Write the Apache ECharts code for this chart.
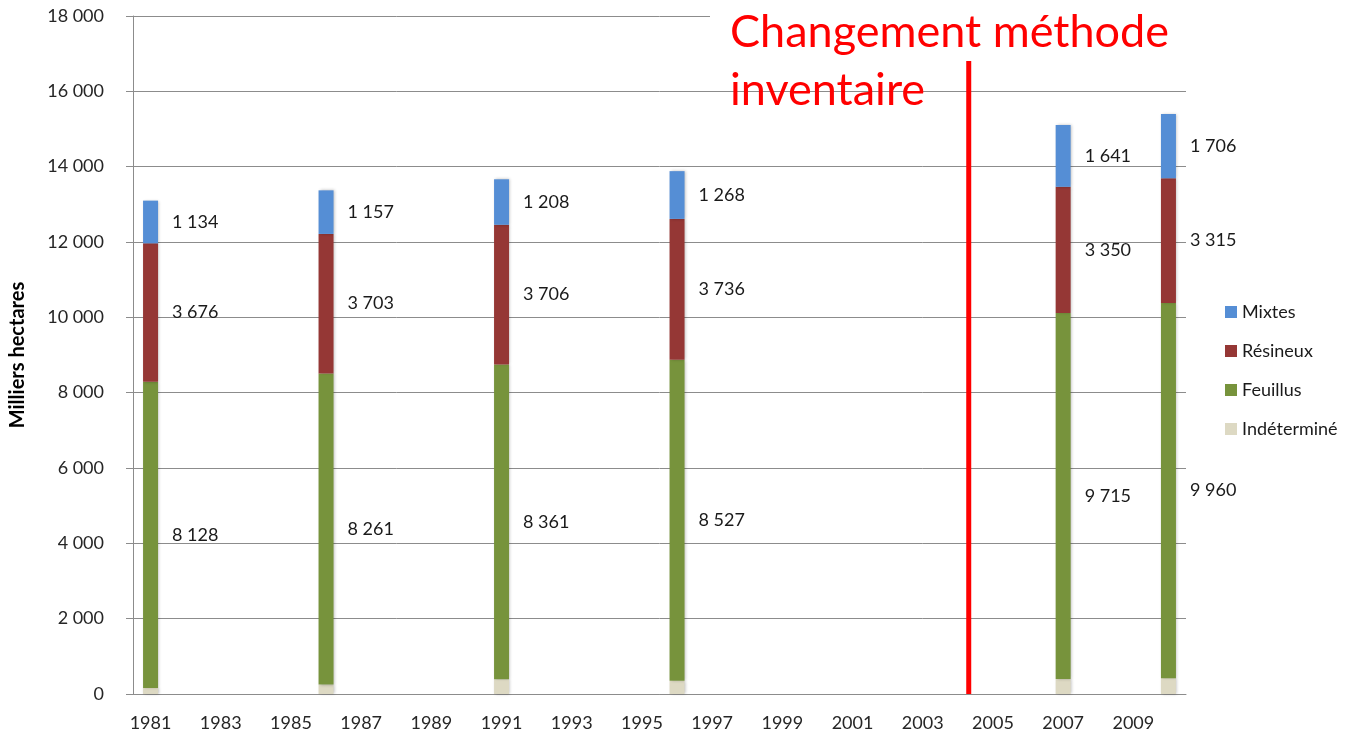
<!DOCTYPE html>
<html>
<head>
<meta charset="utf-8">
<script src="https://cdn.jsdelivr.net/npm/echarts@6/dist/echarts.min.js"></script>
<style>
  html, body { margin: 0; padding: 0; background: #fff; }
  #chart { width: 1348px; height: 732px; }
</style>
</head>
<body>
<div id="chart"></div>
<script>
// axe des années (catégories)
const firstYear = 1981
const lastYear = 2010
const categories = []
for (let y = firstYear; y <= lastYear; y++) categories.push(String(y))

// années inventoriées
const years = [1981, 1986, 1991, 1996, 2007, 2010]

// surfaces en milliers d'hectares
const indetermine = [160, 250, 390, 350, 400, 420]
const feuillus = [8128, 8261, 8361, 8527, 9715, 9960]
const resineux = [3676, 3703, 3706, 3736, 3350, 3315]
const mixtes = [1134, 1157, 1208, 1268, 1641, 1706]

// trait du changement de méthode
const breakYear = 2004.31
const breakTop = 16880

const fmt = (v) => String(v).replace(/\B(?=(\d{3})+(?!\d))/g, ' ')
const toPairs = (arr) => arr.map((v, i) => [years[i] - firstYear, v])

const font = 'Lato, "Open Sans", sans-serif'

const labelStyle = {
  show: true,
  position: 'right',
  distance: 14,
  fontFamily: font,
  fontSize: 18,
  color: '#1a1a1a',
  formatter: (p) => fmt(p.value[1])
}

const barStyle = (color) => ({
  color: color,
  shadowColor: 'rgba(0,0,0,0.25)',
  shadowBlur: 3,
  shadowOffsetX: 1
})

const chart = echarts.init(document.getElementById('chart'))

const option = {
  animation: false,
  backgroundColor: '#fff',
  title: [
    {
      text: 'Changement méthode',
      left: 710,
      top: 0,
      padding: [10, 30, 6, 20],
      backgroundColor: '#fff',
      textStyle: { color: '#ff0000', fontFamily: font, fontSize: 45, fontWeight: 'normal' }
    },
    {
      text: 'inventaire',
      left: 730,
      top: 68,
      padding: 0,
      textStyle: { color: '#ff0000', fontFamily: font, fontSize: 45, fontWeight: 'normal' }
    }
  ],
  legend: {
    orient: 'vertical',
    left: 1220,
    top: 298,
    icon: 'rect',
    itemWidth: 12,
    itemHeight: 12,
    itemGap: 21,
    data: ['Mixtes', 'Résineux', 'Feuillus', 'Indéterminé'],
    textStyle: { fontFamily: font, fontSize: 18, color: '#1a1a1a' }
  },
  grid: {
    left: 127,
    right: 162,
    top: 16,
    bottom: 38,
    containLabel: false
  },
  xAxis: [
    {
      type: 'category',
      data: categories,
      boundaryGap: true,
      axisLine: { lineStyle: { color: '#8c8c8c' } },
      axisTick: { interval: 1, length: 7, lineStyle: { color: '#8c8c8c' } },
      axisLabel: { interval: 1, margin: 20, fontFamily: font, fontSize: 18, color: '#262626' }
    },
    {
      type: 'value',
      min: firstYear - 0.5,
      max: lastYear + 0.5,
      show: false
    }
  ],
  yAxis: {
    type: 'value',
    min: 0,
    max: 18000,
    interval: 2000,
    name: 'Milliers hectares',
    nameLocation: 'middle',
    nameGap: 105,
    nameTextStyle: { fontFamily: font, fontSize: 20, fontWeight: 'bold', color: '#000' },
    axisLine: { show: true, lineStyle: { color: '#8c8c8c' } },
    axisTick: { show: true, length: 7, lineStyle: { color: '#8c8c8c' } },
    axisLabel: { margin: 29, fontFamily: font, fontSize: 18, color: '#262626', formatter: fmt },
    splitLine: { lineStyle: { color: '#8c8c8c' } }
  },
  series: [
    {
      name: 'Indéterminé',
      type: 'bar',
      stack: 'total',
      barWidth: 15,
      itemStyle: barStyle('#ddd9c3'),
      data: toPairs(indetermine)
    },
    {
      name: 'Feuillus',
      type: 'bar',
      stack: 'total',
      barWidth: 15,
      itemStyle: barStyle('#77933c'),
      label: labelStyle,
      data: toPairs(feuillus)
    },
    {
      name: 'Résineux',
      type: 'bar',
      stack: 'total',
      barWidth: 15,
      itemStyle: barStyle('#953735'),
      label: labelStyle,
      data: toPairs(resineux)
    },
    {
      name: 'Mixtes',
      type: 'bar',
      stack: 'total',
      barWidth: 15,
      itemStyle: barStyle('#558ed5'),
      label: labelStyle,
      data: toPairs(mixtes)
    },
    {
      name: 'rupture',
      type: 'line',
      xAxisIndex: 1,
      symbol: 'none',
      silent: true,
      z: 5,
      lineStyle: { color: '#ff0000', width: 5 },
      data: [[breakYear, 0], [breakYear, breakTop]]
    }
  ]
}

chart.setOption(option)
window.addEventListener('resize', () => chart.resize())
</script>
</body>
</html>
